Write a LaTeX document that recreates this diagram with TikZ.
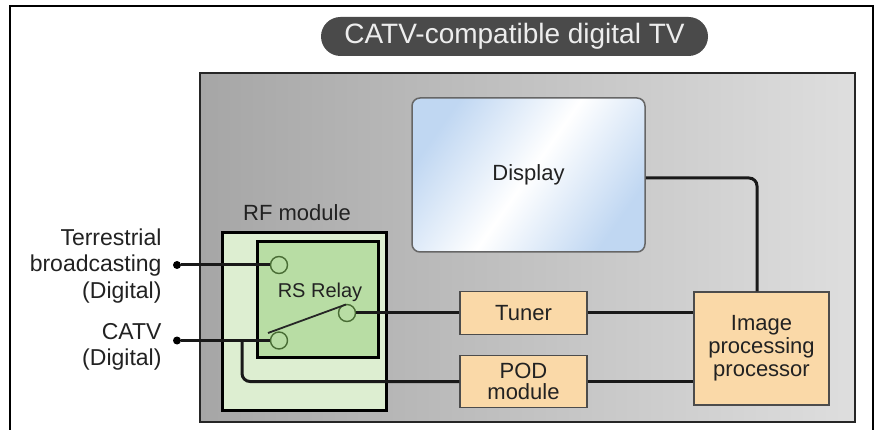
\documentclass[tikz,border=0pt]{standalone}
\usepackage{fontspec}
\setmainfont{Liberation Sans}
\usepackage{tikz}
\usetikzlibrary{positioning}
\definecolor{tvgrayL}{RGB}{166,166,166}
\definecolor{tvgrayR}{RGB}{222,222,222}
\definecolor{pill}{RGB}{74,74,74}
\definecolor{peach}{RGB}{250,217,168}
\definecolor{rfouter}{RGB}{221,238,209}
\definecolor{rfinner}{RGB}{184,221,164}
\definecolor{swgreen}{RGB}{72,108,52}
\definecolor{dispblue}{RGB}{192,215,242}
\definecolor{txt}{RGB}{34,34,34}

\begin{document}
\begin{tikzpicture}[
  x=1pt, y=-1pt,
  lbl/.style={font=\fontsize{22}{23}\selectfont, text=txt, align=center},
  blk/.style={draw=black!70, line width=1.2, fill=peach, lbl, inner sep=0pt},
  wire/.style={line width=3, black!90},
  sw/.style={circle, draw=swgreen, line width=1.4, fill=rfinner,
             minimum size=17, inner sep=0pt},
  dot/.style={circle, fill=black, minimum size=8, inner sep=0pt}
]
  \useasboundingbox (0,0) rectangle (878,430);
  \fill[white] (0,0) rectangle (878,430);
  \draw[line width=1.8] (10,440) -- (10,6) -- (873,6) -- (873,440);

  \node[fill=pill, rounded corners=19.5, minimum width=387, minimum height=39,
        text=white!93!black, font=\fontsize{28}{30}\selectfont, inner sep=0pt]
    (title) at (514.5,36.5) {CATV-compatible digital TV};

  \node[draw=black!85, line width=2, left color=tvgrayL, right color=tvgrayR,
        minimum width=655, minimum height=349, inner sep=0pt]
    (tv) at (527.5,247.5) {};

  % screen
  \node[draw=black!60, line width=1.5, rounded corners=8,
        left color=dispblue, right color=dispblue, middle color=white,
        shading angle=55, minimum width=233, minimum height=154, lbl]
    (disp) at (528.5,175) {Display};

  % RF module with relay
  \node[lbl] (rflabel) at (297,213) {RF module};
  \node[draw=black, line width=3, fill=rfouter,
        minimum width=164, minimum height=177, inner sep=0pt]
    (rfmod) at (304,321.5) {};
  \node[draw=black, line width=3, fill=rfinner,
        minimum width=121, minimum height=115, inner sep=0pt]
    (relay) at (317.5,299.5) {};
  \node[lbl, font=\fontsize{20}{22}\selectfont] (rslabel) at (320,292) {RS Relay};
  \node[sw] (swA) at (279,265) {};
  \node[sw] (swB) at (279,340.5) {};
  \node[sw] (swC) at (347,313) {};
  \draw[line width=1.8, black!85] (268,333) -- (346,304.5);

  \node[blk, minimum width=127, minimum height=43] (tuner) at (523.5,313) {Tuner};
  \node[blk, minimum width=127, minimum height=52] (pod) at (523.5,381.5) {POD\\[-2pt]module};
  \node[blk, minimum width=135, minimum height=113] (ipp) at (761.5,348.5)
    {Image\\processing\\processor};

  % inputs
  \node[dot] (dotT) at (177,265) {};
  \node[dot] (dotC) at (177,340.5) {};
  \node[lbl, font=\fontsize{23}{26.5}\selectfont, align=right, anchor=east]
    (lblT) at (165,266) {Terrestrial\\broadcasting\\(Digital)};
  \node[lbl, font=\fontsize{23}{26.5}\selectfont, align=right, anchor=east]
    (lblC) at (165,347) {CATV\\(Digital)};
  \coordinate (tap) at (242,340.5);

  \draw[wire] (dotT) -- (swA.west);
  \draw[wire] (dotC) -- (swB.west);
  \draw[wire, rounded corners=8] (tap) |- (pod.west);
  \draw[wire] (swC.east) -- (tuner.west);
  \draw[wire] (tuner.east) -- (tuner -| ipp.west);
  \draw[wire] (pod.east) -- (pod -| ipp.west);
  \draw[wire, rounded corners=8] ([yshift=-3pt]disp.east) -| ([xshift=-4.5pt]ipp.north);
\end{tikzpicture}
\end{document}
